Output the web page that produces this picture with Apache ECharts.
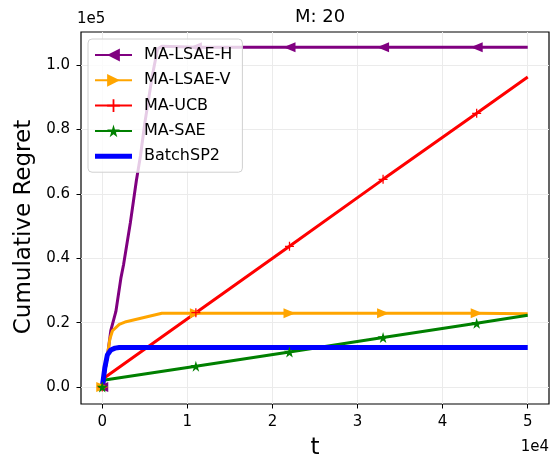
<!DOCTYPE html>
<html>
<head>
<meta charset="utf-8">
<script src="https://cdn.jsdelivr.net/npm/echarts@6/dist/echarts.min.js"></script>
<style>html,body{margin:0;padding:0;background:#fff}#c{width:551px;height:459px}</style>
</head>
<body>
<div id="c"></div>
<script>
// ---- data (t, cumulative regret) ----
const seriesNames = ['MA-LSAE-H', 'MA-LSAE-V', 'MA-UCB', 'MA-SAE', 'BatchSP2'];
const markerT = [0, 11000, 22000, 33000, 44000];
const xTicks = [0, 10000, 20000, 30000, 40000, 50000];
const yTicks = [0, 20000, 40000, 60000, 80000, 100000];

const lsaeH = [[0,0],[600,9500],[1000,17500],[1600,23500],[2200,34000],[2500,38000],[3300,51000],[4000,64000],[4500,72000],[5000,82000],[5900,97000],[6500,105000],[7000,105800],[11000,105500],[22000,105500],[33000,105500],[44000,105500],[50000,105500]];
const lsaeV = [[0,0],[500,8000],[900,15000],[1200,17500],[2000,19500],[2800,20300],[7000,22900],[11000,22900],[22000,22900],[33000,22900],[44000,22900],[50000,22800]];
const ucb = [[0,0],[300,3000],[11000,23100],[22000,43700],[33000,64500],[44000,85000],[50000,96300]];
const sae = [[0,0],[300,2200],[11000,6500],[22000,10900],[33000,15400],[44000,19800],[50000,22300]];
const batch = [[0,0],[300,6000],[600,10000],[1000,11500],[1500,12100],[2000,12300],[50000,12300]];

const starPath = 'path://M50,0 L61,35 L98,35 L68,57 L79,91 L50,70 L21,91 L32,57 L2,35 L39,35 Z';
const plusPath = 'path://M4.3,0H5.7V4.3H10V5.7H5.7V10H4.3V5.7H0V4.3H4.3Z';

function mk(size) {
  return function (v) { return markerT.indexOf(v[0]) >= 0 ? size : 0; };
}
const F = 'DejaVu Sans';

function lineSeries(name, data, color, width, symbol, size, rotate) {
  return {
    name: name, type: 'line', data: data, smooth: false,
    symbol: symbol, symbolSize: mk(size), symbolRotate: rotate || 0,
    showSymbol: true, showAllSymbol: true,
    lineStyle: { color: color, width: width },
    itemStyle: { color: color },
    emphasis: { disabled: true },
    animation: false
  };
}

const chart = echarts.init(document.getElementById('c'), null, { renderer: 'canvas' });
chart.setOption({
  animation: false,
  title: { text: 'M: 20', top: 3, left: 315, textAlign: 'center',
    textStyle: { fontFamily: F, fontSize: 18, fontWeight: 'normal', color: '#000' } },
  grid: { left: 81, right: 2, top: 32, bottom: 55, show: true, borderColor: '#000', borderWidth: 1.2,
    backgroundColor: 'transparent', containLabel: false, outerBoundsMode: 'none' },
  xAxis: {
    type: 'value', min: -2500, max: 52500,
    name: 't', nameLocation: 'middle', nameGap: 33,
    nameTextStyle: { fontFamily: F, fontSize: 23, color: '#000' },
    axisLine: { show: false, onZero: false },
    axisTick: { show: true, length: 4.5, customValues: xTicks, lineStyle: { color: '#000', width: 1 } },
    axisLabel: { customValues: xTicks, margin: 11, fontFamily: F, fontSize: 15, color: '#000',
      formatter: function (v) { return String(Math.round(v / 1e4)); } },
    splitLine: { show: true, lineStyle: { color: '#ebebeb', width: 1 } }
  },
  yAxis: {
    type: 'value', min: -5250, max: 110250,
    name: 'Cumulative Regret', nameLocation: 'middle', nameGap: 43,
    nameTextStyle: { fontFamily: F, fontSize: 23, color: '#000', padding: [0, 18, 0, 0] },
    axisLine: { show: false, onZero: false },
    axisTick: { show: true, length: 4.5, customValues: yTicks, lineStyle: { color: '#000', width: 1 } },
    axisLabel: { customValues: yTicks, margin: 11, fontFamily: F, fontSize: 15, color: '#000',
      formatter: function (v) { return (v / 1e5).toFixed(1); } },
    splitLine: { show: true, lineStyle: { color: '#ebebeb', width: 1 } }
  },
  legend: {
    left: 88, top: 39, orient: 'vertical',
    backgroundColor: 'rgba(255,255,255,0.8)', borderColor: '#d0d0d0', borderWidth: 1, borderRadius: 4,
    padding: [8, 10, 8, 6],
    itemWidth: 37, itemHeight: 16, itemGap: 9.3,
    textStyle: { fontFamily: F, fontSize: 16, color: '#000', padding: [0, 0, 0, 7] },
    data: [
      { name: 'MA-LSAE-H' }, { name: 'MA-LSAE-V' }, { name: 'MA-UCB' }, { name: 'MA-SAE' },
      { name: 'BatchSP2', icon: 'path://M0,0L37,0L37,5L0,5Z' }
    ]
  },
  graphic: [
    { type: 'text', left: 77, top: 12, style: { text: '1e5', font: '15px "DejaVu Sans"', fill: '#000' } },
    { type: 'text', right: 2, top: 440, style: { text: '1e4', font: '15px "DejaVu Sans"', fill: '#000' } }
  ],
  series: [
    lineSeries('MA-LSAE-H', lsaeH, '#800080', 3, 'triangle', [10, 12], 90),
    lineSeries('MA-LSAE-V', lsaeV, '#FFA500', 3, 'triangle', [10, 12], -90),
    lineSeries('MA-UCB', ucb, '#FF0000', 3, plusPath, 9, 0),
    lineSeries('MA-SAE', sae, '#008000', 3, starPath, 11, 0),
    Object.assign(lineSeries('BatchSP2', batch, '#0000FF', 5, 'none', 0, 0), { symbol: 'none' })
  ]
});
</script>
</body>
</html>
